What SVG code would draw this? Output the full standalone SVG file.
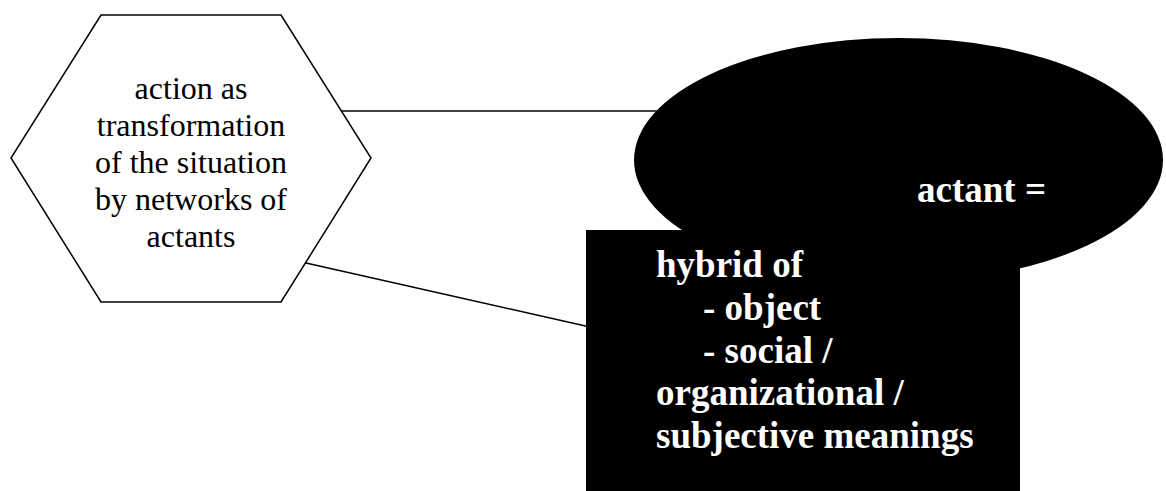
<svg xmlns="http://www.w3.org/2000/svg" width="1166" height="491" viewBox="0 0 1166 491">
<style>
.edge{stroke:#000;stroke-width:1.5;fill:none}
.hex{fill:#fff;stroke:#000;stroke-width:1.5}
.dark{fill:#000;stroke:none}
.t1{font-family:"Liberation Serif","Times New Roman",serif;font-size:32px;fill:#000;text-anchor:middle}
.t2{font-family:"Liberation Serif","Times New Roman",serif;font-size:37px;font-weight:bold;fill:#fff}
</style>
<rect width="1166" height="491" fill="#fff"/>
<g id="connectors">
<line class="edge" x1="341" y1="111" x2="660" y2="111"/>
<line class="edge" x1="306" y1="263" x2="590" y2="327"/>
</g>
<g id="node-action">
<polygon class="hex" points="101,15 281,15 371,158 281,302 101,302 11,158"/>
<text class="t1" x="191" y="99">action as</text>
<text class="t1" x="191" y="136">transformation</text>
<text class="t1" x="191" y="173">of the situation</text>
<text class="t1" x="191" y="210">by networks of</text>
<text class="t1" x="191" y="247">actants</text>
</g>
<g id="node-actant">
<ellipse class="dark" cx="898.5" cy="160" rx="264.5" ry="122"/>
<text class="t2" x="917" y="202">actant =</text>
</g>
<g id="node-hybrid">
<rect class="dark" x="586" y="230" width="434" height="261"/>
<text class="t2" x="656" y="277">hybrid of</text>
<text class="t2" x="703" y="320">- object</text>
<text class="t2" x="703" y="362.5">- social /</text>
<text class="t2" x="656" y="405">organizational /</text>
<text class="t2" x="656" y="447.5">subjective meanings</text>
</g>
</svg>
